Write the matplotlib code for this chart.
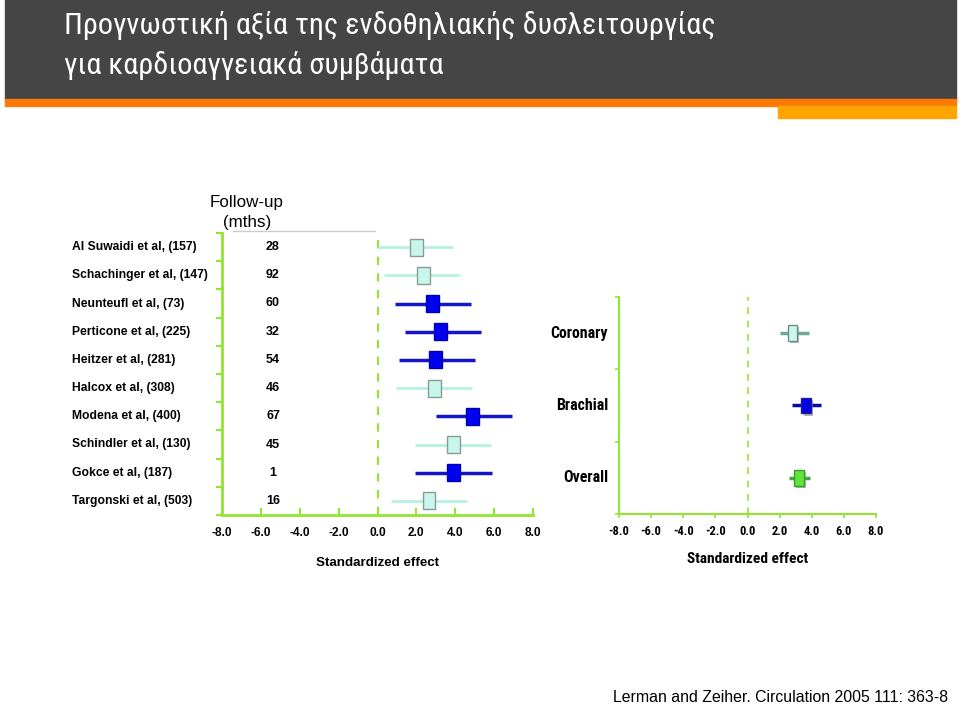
import matplotlib
matplotlib.use("Agg")
import matplotlib.pyplot as plt
from matplotlib import transforms, font_manager
from matplotlib.patches import Rectangle
import matplotlib.patheffects as pe

# study level data (left panel)
studies = ["Al Suwaidi et al, (157)", "Schachinger et al, (147)", "Neunteufl et al, (73)",
           "Perticone et al, (225)", "Heitzer et al, (281)", "Halcox et al, (308)",
           "Modena et al, (400)", "Schindler et al, (130)", "Gokce et al, (187)",
           "Targonski et al, (503)"]
followup = [28, 92, 60, 32, 54, 46, 67, 45, 1, 16]
effect = [2.0, 2.35, 2.85, 3.25, 3.0, 2.95, 4.9, 3.9, 3.9, 2.65]
ci_low = [0.05, 0.35, 0.9, 1.4, 1.1, 0.95, 3.0, 1.95, 1.95, 0.7]
ci_high = [3.9, 4.25, 4.8, 5.3, 5.0, 4.85, 6.9, 5.85, 5.9, 4.6]
site = ["coronary", "coronary", "brachial", "brachial", "brachial",
        "coronary", "brachial", "coronary", "brachial", "coronary"]

# pooled data (right panel)
groups = ["Coronary", "Brachial", "Overall"]
group_effect = [2.8, 3.65, 3.2]
group_low = [2.0, 2.75, 2.6]
group_high = [3.8, 4.55, 3.9]

xticks = [-8, -6, -4, -2, 0, 2, 4, 6, 8]

names = {f.name for f in font_manager.fontManager.ttflist}


def pick(cands):
    for c in cands:
        if c in names:
            return c
    return "DejaVu Sans"


title_font = pick(["Roboto Condensed", "Fira Sans Condensed", "Liberation Sans Narrow"])
narrow = pick(["Liberation Sans Narrow", "Roboto Condensed", "Fira Sans Condensed"])
arial = pick(["Liberation Sans", "DejaVu Sans"])

green = "#92e632"
styles = {
    "coronary": dict(line="#b4f2e2", face="#c9f6ec", edge="#8a9a94", lw=2),
    "brachial": dict(line="#1414c8", face="#0000ee", edge="#0000b0", lw=2.5),
}
group_styles = [
    dict(line="#6fa898", face="#cdf6ee", edge="#6f8f86"),
    dict(line="#0a0aa8", face="#0000e6", edge="#202090"),
    dict(line="#3caa3c", face="#5fe63a", edge="#3c9a30"),
]

fig = plt.figure(figsize=(9.6, 7.06), dpi=100)
renderer = fig.canvas.get_renderer()


def fit(t, width_px):
    # scale the font so the text spans about width_px pixels
    w = t.get_window_extent(renderer).width
    t.set_fontsize(t.get_fontsize() * width_px / w)
    return t.get_fontsize()


# background / header in pixel coordinates
bg = fig.add_axes([0, 0, 1, 1], zorder=0)
bg.set_xlim(0, 960)
bg.set_ylim(706, 0)
bg.axis("off")
bg.add_patch(Rectangle((5, 0), 951, 100, color="#454545"))
bg.add_patch(Rectangle((5, 99), 951, 7, color="#ff7a05"))
bg.add_patch(Rectangle((778, 106), 178, 12, color="#ffa502"))
t1 = bg.text(64, 26, "Προγνωστική αξία της ενδοθηλιακής δυσλειτουργίας", color="white",
             fontsize=22, family=title_font, va="center", ha="left")
size = fit(t1, 651)
bg.text(64, 66, "για καρδιοαγγειακά συμβάματα", color="white",
        fontsize=size, family=title_font, va="center", ha="left")
fu = bg.text(247, 203, "Follow-up", ha="center", va="center", fontsize=11, family=arial)
size = fit(fu, 73)
bg.text(247, 222, "(mths)", ha="center", va="center", fontsize=size, family=arial)
bg.plot([233, 375], [231, 231], color="#cccccc", lw=1)
t = bg.text(378, 563, "Standardized effect", ha="center", va="center", fontsize=10.5,
            family=arial, weight="bold")
fit(t, 124)
t = bg.text(748, 559, "Standardized effect", ha="center", va="center", fontsize=12.5,
            family=narrow, weight="bold")
fit(t, 121)
t = bg.text(948, 697, "Lerman and Zeiher. Circulation 2005 111: 363-8", ha="right",
            va="center", fontsize=10.5, family=arial)
fit(t, 338)

# left panel
ax = fig.add_axes([222 / 960, 1 - 515 / 706, 311 / 960, 282 / 706], zorder=1)
ax.set_facecolor("none")
n = len(studies)
ax.set_xlim(-8, 8)
ax.set_ylim(0.5, n + 0.5)
for i in range(n):
    y = n - i
    st = styles[site[i]]
    ax.plot([ci_low[i], ci_high[i]], [y, y], color=st["line"], lw=st["lw"], zorder=2,
            solid_capstyle="butt")
    w, h = 0.66, 0.6
    ax.add_patch(Rectangle((effect[i] - w / 2, y - h / 2), w, h, facecolor=st["face"],
                           edgecolor=st["edge"], lw=1, zorder=3))
ax.axvline(0, color=green, lw=1.5, ls=(0, (4, 4)), zorder=1)
for s in ["top", "right"]:
    ax.spines[s].set_visible(False)
for s in ["left", "bottom"]:
    ax.spines[s].set_color(green)
    ax.spines[s].set_linewidth(2)
ax.set_xticks(xticks)
ax.set_xticklabels([f"{t:.1f}" for t in xticks], fontsize=8.6, weight="bold", family=arial)
ax.tick_params(axis="x", direction="in", length=5, width=1.5, color=green, pad=9)
ax.set_yticks([k + 0.5 for k in range(n + 1)])
ax.set_yticklabels([])
ax.tick_params(axis="y", direction="out", length=4, width=1.5, color=green)
tr = transforms.blended_transform_factory(fig.transFigure, ax.transData)
probe = ax.text(72 / 960, 1, studies[1], transform=tr, fontsize=9, weight="bold", family=arial)
label_size = fit(probe, 136)
probe.remove()
for i in range(n):
    y = n - i
    ax.text(72 / 960, y, studies[i], transform=tr, ha="left", va="center",
            fontsize=label_size, weight="bold", family=arial)
    ax.text(273 / 960, y, str(followup[i]), transform=tr, ha="center", va="center",
            fontsize=label_size + 0.3, weight="bold", family=arial)

# right panel
ax2 = fig.add_axes([619 / 960, 1 - 514 / 706, 257 / 960, 217 / 706], zorder=1)
ax2.set_facecolor("none")
m = len(groups)
ax2.set_xlim(-8, 8)
ax2.set_ylim(0.5, m + 0.5)
for i in range(m):
    y = m - i
    st = group_styles[i]
    ax2.plot([group_low[i], group_high[i]], [y, y], color=st["line"], lw=2.5, zorder=2,
             solid_capstyle="butt")
    w, h = 0.58, 0.22
    r = Rectangle((group_effect[i] - w / 2, y - h / 2), w, h, facecolor=st["face"],
                  edgecolor=st["edge"], lw=1, zorder=3)
    r.set_path_effects([pe.SimplePatchShadow(offset=(1.5, -1.5), shadow_rgbFace="#888888",
                                             alpha=0.6), pe.Normal()])
    ax2.add_patch(r)
ax2.axvline(0, color=green, lw=1.2, ls=(0, (4, 4)), zorder=1)
for s in ["top", "right"]:
    ax2.spines[s].set_visible(False)
for s in ["left", "bottom"]:
    ax2.spines[s].set_color(green)
    ax2.spines[s].set_linewidth(1.5)
ax2.set_xticks(xticks)
ax2.set_xticklabels([f"{t:.1f}" for t in xticks], fontsize=9, weight="bold", family=narrow)
ax2.tick_params(axis="x", direction="out", length=3, width=1.2, color=green, pad=5)
ax2.set_yticks([k + 0.5 for k in range(m + 1)])
ax2.set_yticklabels([])
ax2.tick_params(axis="y", direction="out", length=3, width=1.2, color=green)
tr2 = transforms.blended_transform_factory(fig.transFigure, ax2.transData)
probe = ax2.text(608 / 960, 1, groups[0], transform=tr2, fontsize=12, weight="bold",
                 family=narrow)
group_size = fit(probe, 58)
probe.remove()
for i in range(m):
    y = m - i
    ax2.text(608 / 960, y, groups[i], transform=tr2, ha="right", va="center",
             fontsize=group_size, weight="bold", family=narrow)

fig.savefig("out.png", dpi=100)
